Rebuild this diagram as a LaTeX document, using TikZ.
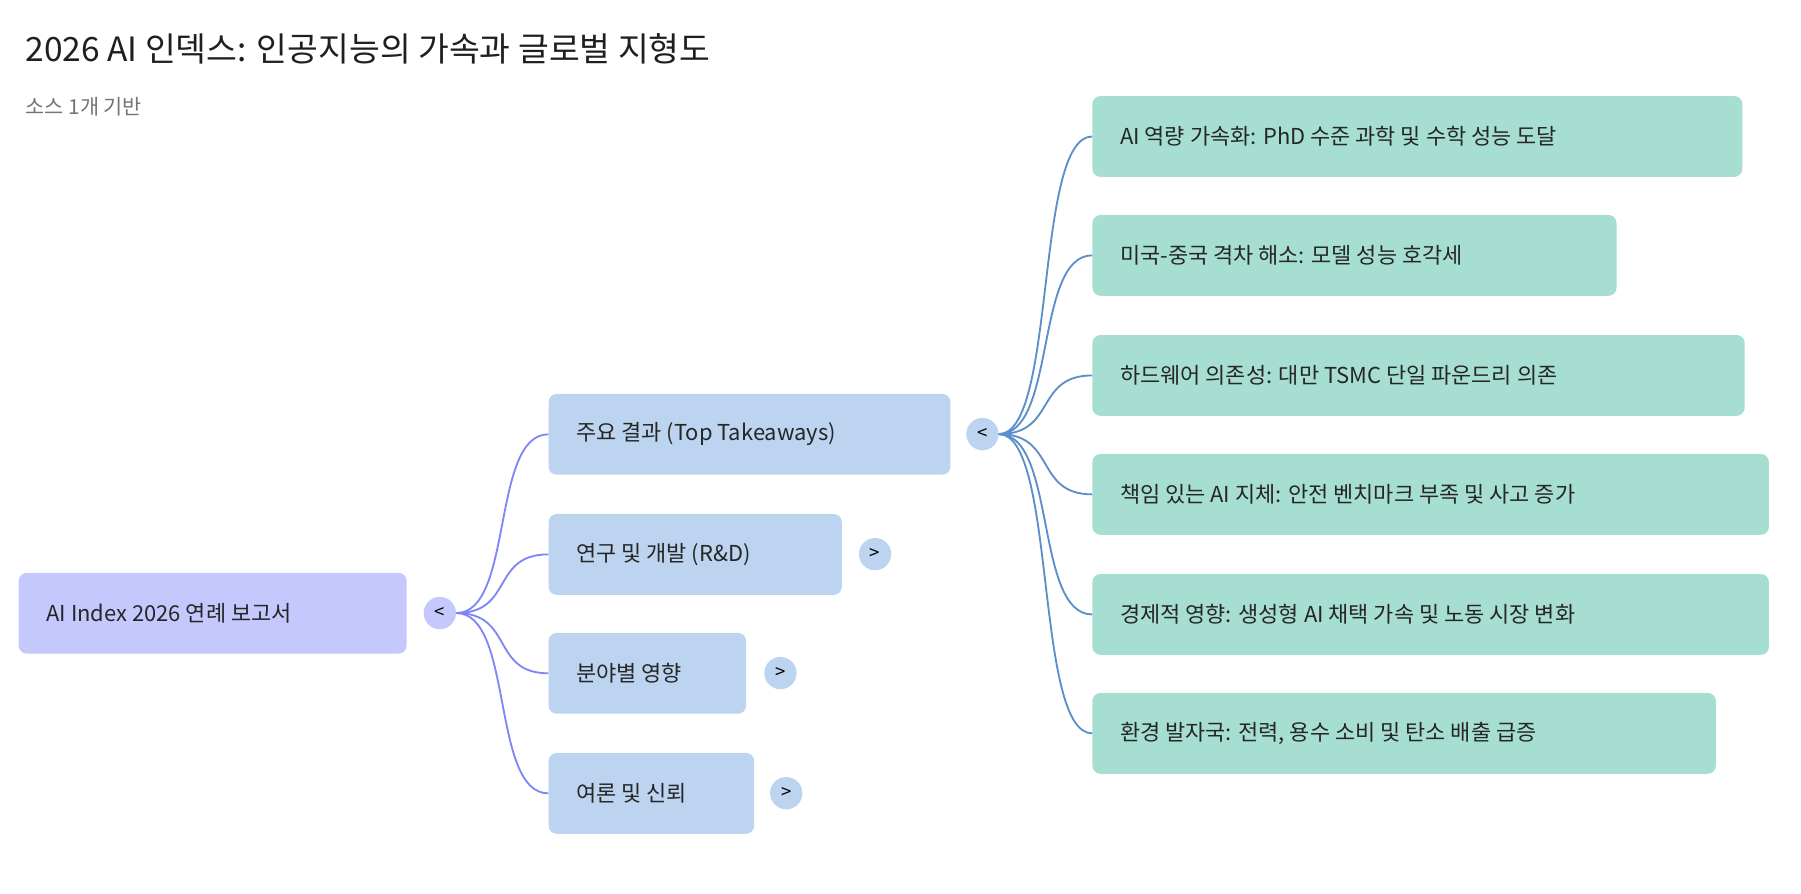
\documentclass[tikz,border=0pt]{standalone}
\usepackage{fontspec}
\setmainfont{Noto Sans CJK KR}
\begin{document}
\begin{tikzpicture}[x=1pt,y=-1pt,
 box/.style={rounded corners=7pt,anchor=north west,inner xsep=0pt,inner ysep=0pt,font=\fontsize{19}{22}\selectfont,text=black!85},
 rootbox/.style={box,fill=lav},
 l1box/.style={box,fill=lblue},
 l2box/.style={box,fill=lteal},
 tog/.style={circle,minimum size=28pt,inner sep=0pt,font=\fontsize{16}{18}\selectfont},
 e1/.style={draw=edgeA,line width=1.6pt},
 e2/.style={draw=edgeB,line width=1.6pt}]
\definecolor{lav}{HTML}{C5C8FD}
\definecolor{lblue}{HTML}{BCD4F0}
\definecolor{lteal}{HTML}{A6DFD2}
\definecolor{edgeA}{HTML}{7F86F5}
\definecolor{edgeB}{HTML}{5B8FC9}
\useasboundingbox (0,0) rectangle (1560,774);
\node[anchor=base west,inner sep=0pt,font=\fontsize{29}{32}\selectfont,text=black!88] (title) at (22,53) {2026 AI 인덱스: 인공지능의 가속과 글로벌 지형도};
\node[anchor=base west,inner sep=0pt,font=\fontsize{18}{20}\selectfont,text=black!55] (sub) at (22,99) {소스 1개 기반};
% root
\node[rootbox,minimum width=336pt,minimum height=70pt] (root) at (16,496) {};
\node[anchor=west,font=\fontsize{19}{22}\selectfont,text=black!85,inner sep=0pt] at ([xshift=24pt]root.west) {AI Index 2026 연례 보고서};
\node[tog,fill=lav] (t0) at (381,531) {<};
% level 1
\newcommand{\mybox}[7]{%
 \node[#1,minimum width=#4pt,minimum height=70pt] (#5) at (#2,#3) {};
 \node[anchor=west,font=\fontsize{19}{22}\selectfont,text=black!85,inner sep=0pt] at ([xshift=24pt]#5.west) {#6};}
\mybox{l1box}{475}{341}{348}{a}{주요 결과 (Top Takeaways)}{}
\mybox{l1box}{475}{445}{254}{b}{연구 및 개발 (R\&D)}{}
\mybox{l1box}{475}{548}{171}{c}{분야별 영향}{}
\mybox{l1box}{475}{652}{178}{d}{여론 및 신뢰}{}
\node[tog,fill=lblue] (ta) at (851,376) {<};
\node[tog,fill=lblue] (tb) at (758,480) {>};
\node[tog,fill=lblue] (tc) at (676,583) {>};
\node[tog,fill=lblue] (td) at (681,687) {>};
\mybox{l2box}{946}{83}{563}{k1}{AI 역량 가속화: PhD 수준 과학 및 수학 성능 도달}{}
\mybox{l2box}{946}{186}{454}{k2}{미국-중국 격차 해소: 모델 성능 호각세}{}
\mybox{l2box}{946}{290}{565}{k3}{하드웨어 의존성: 대만 TSMC 단일 파운드리 의존}{}
\mybox{l2box}{946}{393}{586}{k4}{책임 있는 AI 지체: 안전 벤치마크 부족 및 사고 증가}{}
\mybox{l2box}{946}{497}{586}{k5}{경제적 영향: 생성형 AI 채택 가속 및 노동 시장 변화}{}
\mybox{l2box}{946}{600}{540}{k6}{환경 발자국: 전력, 용수 소비 및 탄소 배출 급증}{}
\foreach \n in {a,b,c,d}{
 \draw[e1] (t0.east) .. controls +(50,0) and +(-50,0) .. (\n.west);}
\foreach \n in {k1,k2,k3,k4,k5,k6}{
 \draw[e2] (ta.east) .. controls +(50,0) and +(-50,0) .. (\n.west);}
\end{tikzpicture}
\end{document}
